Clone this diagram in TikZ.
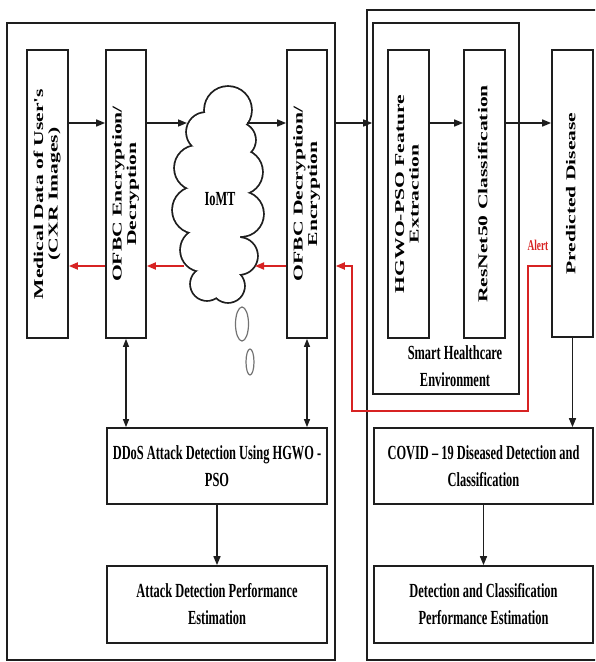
\documentclass[tikz,border=0pt]{standalone}
\usepackage{fontspec}
\usetikzlibrary{arrows.meta,calc}
% condensed serif for horizontal labels, elongated serif for the upright column labels
\newfontfamily\hfont[FakeStretch=0.62]{Liberation Serif}
\newfontfamily\vfont[FakeStretch=1.6]{Liberation Serif}
\newcommand\htextfont{\hfont\bfseries\fontsize{20}{27}\selectfont}
\newcommand\sidelabel[1]{\rotatebox{90}{\vfont\bfseries\fontsize{13.5}{14.5}\selectfont\begin{tabular}{@{}c@{}}#1\end{tabular}}}
\definecolor{alertred}{RGB}{215,35,35}
\definecolor{ink}{RGB}{30,30,30}
\begin{document}
\begin{tikzpicture}[x=1pt,y=-1pt,
  panel/.style={draw=ink, line width=1.5pt, inner sep=0pt},
  colbox/.style={draw=ink, line width=1.7pt, inner sep=0pt, minimum width=41pt, minimum height=288pt},
  rowbox/.style={draw=ink, line width=1.7pt, inner sep=0pt, minimum width=220pt, minimum height=76pt, align=center, font=\htextfont},
  arr/.style={draw=ink, line width=1.5pt, -{Triangle[length=9pt,width=7pt]}},
  darr/.style={draw=ink, line width=1.3pt, {Triangle[length=8pt,width=6pt]}-{Triangle[length=8pt,width=6pt]}},
  redarr/.style={draw=alertred, line width=1.8pt, -{Triangle[length=9pt,width=7pt]}},
  bubble/.style={draw=black!55, line width=1.2pt}]
\useasboundingbox (0,0) rectangle (595,662);
\clip (0,0) rectangle (595,662);

% panels
\node[panel, minimum width=328pt, minimum height=637pt] (leftpanel) at (171,341.5) {};
\node[panel, minimum width=230pt, minimum height=650pt] (rightpanel) at (482,335) {};
\node[panel, line width=1.6pt, minimum width=146pt, minimum height=371pt] (smart) at (446,208.5) {};

% rows used by the horizontal connectors
\coordinate (row) at (0,123);
\coordinate (redrow) at (0,266);

% upright columns
\node[colbox] (medical) at (47.5,194) {\sidelabel{Medical Data of User's\\(CXR Images)}};
\node[colbox, minimum width=40pt] (ofbcenc) at (126,194) {\sidelabel{OFBC Encryption/\\Decryption}};
\node[colbox, minimum width=40pt] (ofbcdec) at (307,194) {\sidelabel{OFBC Decryption/\\Encryption}};
\node[colbox] (hgwo) at (408.5,194) {\sidelabel{HGWO-PSO Feature\\Extraction}};
\node[colbox] (resnet) at (484.5,194) {\sidelabel{ResNet50 Classification}};
\node[colbox, minimum height=287pt] (pred) at (572.5,193.5) {\sidelabel{Predicted Disease}};

% network cloud: ring of puffs (centre/radius), outlined first and then filled
\def\puffs{228/110/23, 238/140/17, 240/172/22, 241/214/22, 239/256/18, 228/286/16,
  207/284/16, 202/250/21, 196/210/23, 197/168/22, 206/132/19}
\foreach \cx/\cy/\r in \puffs {\draw[ink, line width=3.6pt] (\cx,\cy) circle [radius=\r pt];}
\foreach \cx/\cy/\r in \puffs {\fill[white] (\cx,\cy) circle [radius=\r pt];}
\fill[white] (219,195) ellipse [x radius=24pt, y radius=88pt];
\node[font=\htextfont, inner sep=0pt] (iomt) at (220,199) {IoMT};
\draw[bubble] (242,324) ellipse [x radius=6.5pt, y radius=17pt];
\draw[bubble] (250,362) ellipse [x radius=4pt, y radius=13pt];

% environment caption
\node[font=\htextfont, align=center] (smartlabel) at (455,366) {Smart Healthcare\\Environment};

% lower boxes
\node[rowbox] (ddos) at (217,466) {DDoS Attack Detection Using HGWO -\\PSO};
\node[rowbox, minimum height=77pt] (attack) at (217,604.5) {Attack Detection Performance\\Estimation};
\node[rowbox, minimum width=219pt] (covid) at (483.5,466) {COVID \textendash{} 19 Diseased Detection and\\Classification};
\node[rowbox, minimum width=219pt, minimum height=77pt] (detect) at (483.5,604.5) {Detection and Classification\\Performance Estimation};

% cloud contact points
\coordinate (cloudInL) at ($(iomt.center |- row)+(-33,0)$);
\coordinate (cloudOutR) at ($(iomt.center |- row)+(27,0)$);
\coordinate (cloudOutL) at ($(iomt.center |- redrow)+(-36,0)$);
\coordinate (cloudInR) at ($(iomt.center |- redrow)+(35,0)$);

% forward data path
\draw[arr] (medical.east |- row) -- (ofbcenc.west |- row);
\draw[arr] (ofbcenc.east |- row) -- (cloudInL);
\draw[arr] (cloudOutR) -- (ofbcdec.west |- row);
\draw[arr] (leftpanel.east |- row) -- (smart.west |- row);
\draw[arr] (hgwo.east |- row) -- (resnet.west |- row);
\draw[arr] (resnet.east |- row) -- (pred.west |- row);

% return path
\draw[redarr] (ofbcenc.west |- redrow) -- (medical.east |- redrow);
\draw[redarr] (cloudOutL) -- (ofbcenc.east |- redrow);
\draw[redarr] (ofbcdec.west |- redrow) -- (cloudInR);

% alert loop
\coordinate (alertA) at (528,411);
\coordinate (alertB) at (352,411);
\draw[redarr, line join=miter] (pred.west |- redrow) -| (alertA) -- (alertB) |- (leftpanel.east |- redrow);
\node[text=alertred, font=\hfont\bfseries\fontsize{15}{15}\selectfont] (alert) at (538,245) {Alert};

% vertical links
\draw[darr] (ofbcenc.south) -- (ofbcenc.south |- ddos.north);
\draw[darr] (ofbcdec.south) -- (ofbcdec.south |- ddos.north);
\draw[arr] (ddos.south) -- (attack.north);
\draw[arr] (pred.south) -- (pred.south |- covid.north);
\draw[arr] (covid.south) -- (detect.north);
\end{tikzpicture}
\end{document}
